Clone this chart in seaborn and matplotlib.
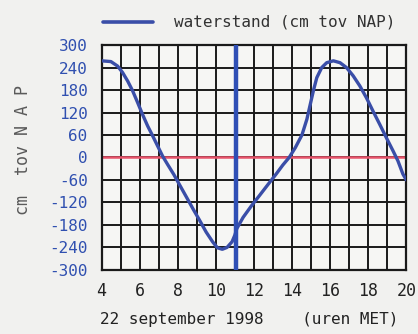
import numpy as np
import pandas as pd
import matplotlib
matplotlib.use("Agg")
import matplotlib.pyplot as plt
import seaborn as sns

hours = [4.0, 4.49, 4.84, 5.1, 5.37, 5.63, 5.89, 6.15, 6.42, 6.68, 6.94, 7.2, 7.46,
         7.8, 8.14, 8.47, 8.81, 9.15, 9.49, 9.83, 10.08, 10.34, 10.59, 10.85, 11.0,
         11.1, 11.43, 11.87, 12.3, 12.74, 13.17, 13.52, 13.85, 14.17, 14.52, 14.78,
         14.95, 15.13, 15.3, 15.56, 15.82, 16.17, 16.52, 16.86, 17.21, 17.56, 17.9,
         18.25, 18.6, 18.95, 19.3, 19.56, 19.82, 20.0]
waterstand = [258, 256, 244, 227, 204, 178, 147, 115, 84, 58, 31, 4, -18,
              -46, -77, -107, -138, -168, -199, -225, -241, -245, -240, -225, -207,
              -190, -160, -129, -101, -72, -44, -20, 0, 26, 60, 102,
              140, 180, 213, 240, 253, 258, 253, 240, 218, 191, 160,
              124, 89, 53, 18, -9, -44, -60]
now_hour = 11.08
x_ticks = [4, 6, 8, 10, 12, 14, 16, 18, 20]
y_ticks = [300, 240, 180, 120, 60, 0, -60, -120, -180, -240, -300]
legend_label = "waterstand (cm tov NAP)"
x_label = "22 september 1998    (uren MET)"
y_label = "cm  tov N A P"

sns.set_style("white")
plt.rcParams['font.family'] = ['DejaVu Sans Mono', 'DejaVu Sans']

bg = "#f1f1ef"
fig = plt.figure(figsize=(4.18, 3.34), dpi=100, facecolor=bg)
ax = fig.add_axes([0.243, 0.192, 0.729, 0.673])
ax.set_facecolor("#f6f6f4")

df = pd.DataFrame({"uur": hours, "cm": waterstand})
blue = "#3a4ea8"

ax.set_xlim(4, 20)
ax.set_ylim(-300, 300)
ax.set_xticks(np.arange(4, 21, 1))
ax.set_yticks(sorted(y_ticks))
ax.grid(True, color="#1a1a1a", linewidth=1.4, zorder=1)
ax.set_axisbelow(True)

ax.axhline(0, color="#e8536a", linewidth=1.8, zorder=2)
sns.lineplot(data=df, x="uur", y="cm", ax=ax, color=blue, linewidth=2.4,
             zorder=3, legend=False)
for l in ax.lines:
    l.set_solid_joinstyle("round")
    l.set_solid_capstyle("round")
ax.axvline(now_hour, color="#2f4fb5", linewidth=3.2, zorder=4)

ax.set_xticklabels([str(t) if t in x_ticks else "" for t in range(4, 21)],
                   fontsize=12, color="#222222")
ax.set_yticklabels([str(v) for v in sorted(y_ticks)],
                   fontsize=11.5, color="#3050b0")
ax.tick_params(axis="both", length=0)
ax.tick_params(axis="x", pad=9)
ax.tick_params(axis="y", pad=10)
for s in ax.spines.values():
    s.set_color("#1a1a1a")
    s.set_linewidth(1.6)

ax.set_xlabel("")
ax.set_ylabel("")
fig.text(0.595, 0.043, x_label, ha="center", va="center", fontsize=11.5,
         color="#222222")
fig.text(0.055, 0.55, y_label, ha="center", va="center", rotation=90,
         fontsize=12, color="#5a5a5a")

# legend
fig.lines.append(plt.Line2D([0.247, 0.366], [0.934, 0.934], color=blue,
                            linewidth=2.6, transform=fig.transFigure))
fig.text(0.945, 0.934, legend_label, ha="right", va="center", fontsize=11.5,
         color="#333333")

fig.savefig("out.png", dpi=100, facecolor=bg)
